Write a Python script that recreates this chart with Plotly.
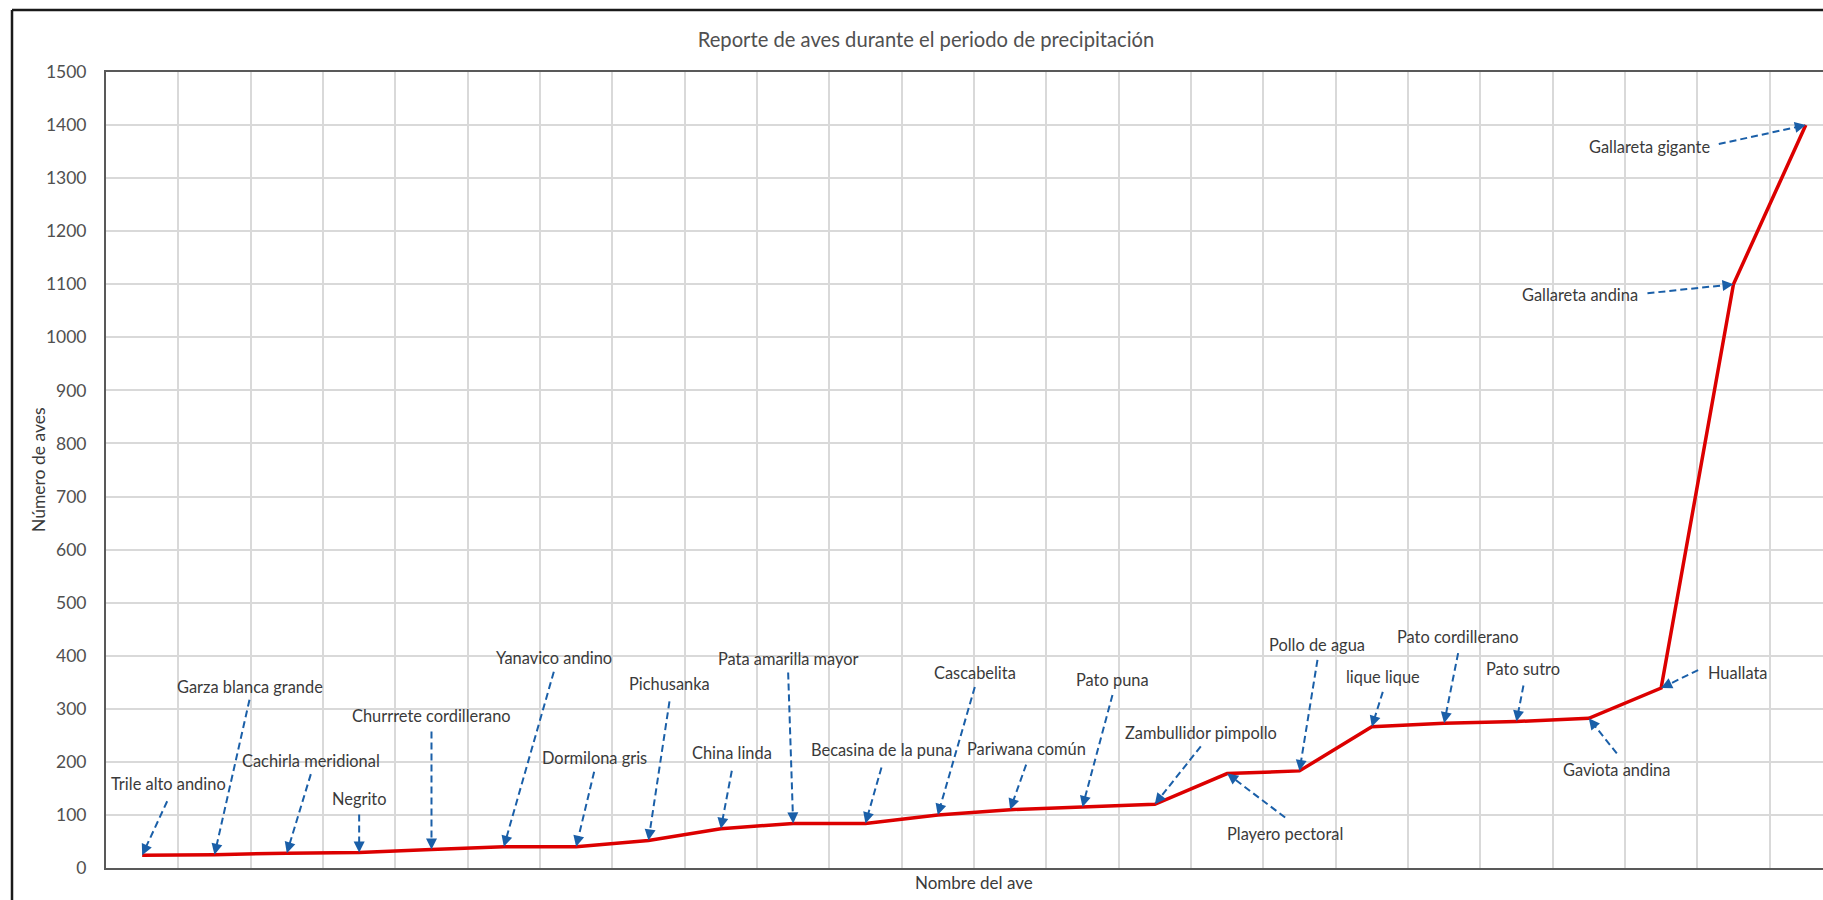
import math
import plotly.graph_objects as go

# Especies observadas, ordenadas por número de individuos
aves = [
    "Trile alto andino", "Garza blanca grande", "Cachirla meridional", "Negrito",
    "Churrrete cordillerano", "Yanavico andino", "Dormilona gris", "Pichusanka",
    "China linda", "Pata amarilla mayor", "Becasina de la puna", "Cascabelita",
    "Pariwana común", "Pato puna", "Zambullidor pimpollo", "Playero pectoral",
    "Pollo de agua", "lique lique", "Pato cordillerano", "Pato sutro",
    "Gaviota andina", "Huallata", "Gallareta andina", "Gallareta gigante",
]
numero_aves = [24, 25, 28, 29, 35, 40, 40, 52, 74, 84, 84, 100,
               110, 115, 120, 178, 183, 266, 273, 276, 282, 339, 1100, 1400]
y_ticks = list(range(0, 1501, 100))

titulo = "Reporte de aves durante el periodo de precipitación"
titulo_x = "Nombre del ave"
titulo_y = "Número de aves"

# Posición de cada rótulo respecto a su punto (px de pantalla, +y hacia abajo):
# (centro del texto dx, dy, inicio de la flecha dx, dy)
rotulos = {
    "Trile alto andino": (26, -72, 25, -54),
    "Garza blanca grande": (35, -168, 35, -155),
    "Cachirla meridional": (24, -93, 24, -79),
    "Negrito": (0, -54, 0, -38),
    "Churrrete cordillerano": (0, -134, 0, -118),
    "Yanavico andino": (50, -189, 50, -175),
    "Dormilona gris": (18, -89, 18, -75),
    "Pichusanka": (21, -157, 21, -139),
    "China linda": (11, -76, 11, -58),
    "Pata amarilla mayor": (-5, -165, -5, -151),
    "Becasina de la puna": (16, -74, 16, -56),
    "Cascabelita": (37, -142, 37, -128),
    "Pariwana común": (16, -61, 16, -45),
    "Pato puna": (30, -127, 30, -112),
    "Zambullidor pimpollo": (46, -72, 46, -58),
    "Playero pectoral": (58, 60, 58, 44),
    "Pollo de agua": (18, -126, 18, -111),
    "lique lique": (11, -50, 11, -35),
    "Pato cordillerano": (14, -87, 14, -70),
    "Pato sutro": (7, -53, 7, -36),
    "Gaviota andina": (28, 51, 28, 35),
    "Huallata": (76, -16, 37, -18),
    "Gallareta andina": (-153, 10, -86, 9),
    "Gallareta gigante": (-156, 21, -87, 19),
}

FUENTE = "Lato, 'Liberation Sans', Arial, sans-serif"
AZUL = "#1a5fa8"
ROJO = "#dc0000"
GRIS_TEXTO = "#3a3a3a"
PUNTA = 10  # largo del tramo sólido bajo la punta de flecha

fig = go.Figure()
fig.add_trace(go.Scatter(
    x=aves, y=numero_aves, mode="lines",
    line=dict(color=ROJO, width=3.5),
    hoverinfo="x+y", showlegend=False,
))

anotaciones = []
formas = []
for nombre, valor in zip(aves, numero_aves):
    tdx, tdy, sdx, sdy = rotulos[nombre]
    anotaciones.append(dict(
        x=nombre, y=valor, xref="x", yref="y", text=nombre, showarrow=False,
        xshift=tdx, yshift=-tdy, xanchor="center", yanchor="middle",
        font=dict(family=FUENTE, size=16.4, color=GRIS_TEXTO),
    ))
    largo = math.hypot(sdx, sdy)
    ux, uy = sdx / largo, sdy / largo
    # línea discontinua desde el rótulo hasta la base de la punta
    formas.append(dict(
        type="line", xref="x", yref="y", xsizemode="pixel", ysizemode="pixel",
        xanchor=nombre, yanchor=valor,
        x0=sdx, y0=-sdy, x1=ux * PUNTA, y1=-uy * PUNTA,
        line=dict(color=AZUL, width=2, dash="7px,4px"),
    ))
    # punta de flecha
    anotaciones.append(dict(
        x=nombre, y=valor, xref="x", yref="y", text="", showarrow=True,
        ax=ux * PUNTA, ay=uy * PUNTA, arrowhead=2, arrowsize=1.1, arrowwidth=2,
        arrowcolor=AZUL, standoff=0,
    ))

# títulos de ejes
anotaciones.append(dict(
    text=titulo_x, xref="paper", yref="paper", x=0.5055, y=-0.0188,
    xanchor="center", yanchor="middle", showarrow=False,
    font=dict(family=FUENTE, size=17, color=GRIS_TEXTO),
))
anotaciones.append(dict(
    text=titulo_y, xref="paper", yref="paper", x=-0.0396, y=0.5,
    xanchor="center", yanchor="middle", showarrow=False, textangle=-90,
    font=dict(family=FUENTE, size=17.5, color=GRIS_TEXTO),
))

# borde exterior del gráfico
borde_x = (12 - 106) / 1717
borde_y = (868 - 10) / 796
formas.append(dict(type="line", xref="paper", yref="paper",
                   x0=borde_x, x1=borde_x, y0=-0.2, y1=borde_y,
                   line=dict(color="#1a1a1a", width=2.5)))
formas.append(dict(type="line", xref="paper", yref="paper",
                   x0=borde_x, x1=1.1, y0=borde_y, y1=borde_y,
                   line=dict(color="#1a1a1a", width=2.5)))

fig.update_layout(
    width=1823, height=900,
    margin=dict(l=106, r=0, t=72, b=32),
    paper_bgcolor="white", plot_bgcolor="white",
    title=dict(text=titulo, x=926 / 1823, xref="container", y=1 - 40 / 900,
               yref="container", xanchor="center", yanchor="middle",
               font=dict(family=FUENTE, size=20.2, color="#505050")),
    xaxis=dict(type="category", range=[-0.5, 23.238], showticklabels=False,
               tickson="boundaries", ticks="", showgrid=True, gridcolor="#d9d9d9",
               gridwidth=1.5, showline=True, linecolor="#595959", linewidth=2,
               mirror=True, fixedrange=True),
    yaxis=dict(range=[0, 1500], tickvals=y_ticks, ticks="", showgrid=True,
               gridcolor="#d9d9d9", gridwidth=1.5, zeroline=False, showline=True,
               linecolor="#595959", linewidth=2, ticklabelstandoff=14,
               tickfont=dict(family=FUENTE, size=17.5, color="#505050"),
               fixedrange=True),
    annotations=anotaciones,
    shapes=formas,
    showlegend=False,
)

fig.write_html("out.html")
